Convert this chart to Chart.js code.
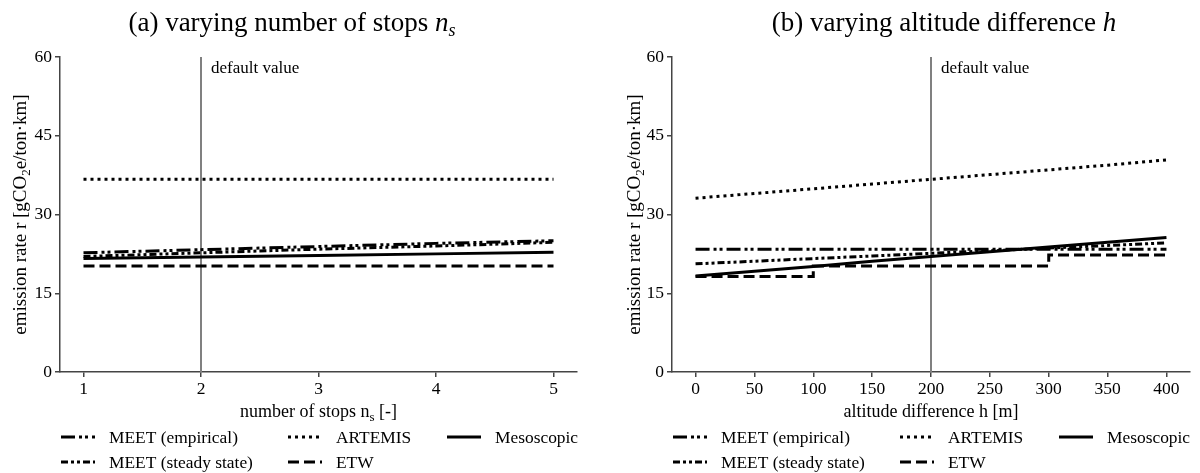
<!DOCTYPE html>
<html>
<head>
<meta charset="utf-8">
<script src="https://cdn.jsdelivr.net/npm/chart.js"></script>
<style>
body{margin:0;background:#fff}
#wrap{position:relative;width:1200px;height:473px}
canvas{position:absolute;top:0}
</style>
</head>
<body>
<div id="wrap">
<canvas id="chartA" width="600" height="473" style="left:0"></canvas>
<canvas id="chartB" width="600" height="473" style="left:600px"></canvas>
</div>
<script>
// (a) number of stops
const stops = [1, 2, 3, 4, 5]
const stopsEmpirical = [22.7, 23.3, 23.9, 24.5, 25.0]
const stopsSteady = [22.0, 22.7, 23.4, 24.0, 24.7]
const stopsArtemis = [36.7, 36.7, 36.7, 36.7, 36.7]
const stopsEtw = [20.2, 20.2, 20.2, 20.2, 20.2]
const stopsMeso = [21.6, 21.9, 22.2, 22.5, 22.8]
const stopsDefault = 2

// (b) altitude difference
const altitude = [0, 50, 100, 150, 200, 250, 300, 350, 400]
const altEmpirical = [23.4, 23.4, 23.4, 23.4, 23.4, 23.4, 23.4, 23.4, 23.4]
const altSteady = [20.6, 21.1, 21.6, 22.1, 22.6, 23.1, 23.6, 24.1, 24.6]
const altArtemis = [33.1, 34.0, 34.9, 35.8, 36.7, 37.6, 38.5, 39.4, 40.4]
const altMeso = [18.3, 19.2, 20.1, 21.1, 22.0, 22.9, 23.8, 24.7, 25.6]
const altEtwX = [0, 100, 100, 300, 300, 400] // ETW is a step line
const altEtw = [18.2, 18.2, 20.2, 20.2, 22.3, 22.3]
const altDefault = 200

const yTicks = [0, 15, 30, 45, 60]
const stopTicks = [1, 2, 3, 4, 5]
const altTicks = [0, 50, 100, 150, 200, 250, 300, 350, 400]

const names = ['MEET (empirical)', 'MEET (steady state)', 'ARTEMIS', 'ETW', 'Mesoscopic']
const dashes = [[14, 4, 3, 3, 3, 4], [7, 3, 3, 3, 3, 3], [3, 4], [11, 5], []]

const SERIF = '"Liberation Serif", "DejaVu Serif", serif'
const AXIS = '#444'
const LW = 3
Chart.defaults.font.family = SERIF

function pts(xs, ys){
    return xs.map((x, i) => ({x, y: ys[i]}))
}

function line(label, data, dash, extra){
    return Object.assign({
        label, data,
        borderColor: '#000',
        borderWidth: LW,
        borderDash: dash,
        borderCapStyle: 'butt',
        pointRadius: 0,
        fill: false,
        tension: 0
    }, extra || {})
}

// draw text pieces (for italic / subscript parts) centred on x
function drawRuns(ctx, runs, x, y){
    let w = 0
    runs.forEach(r => { ctx.font = r.font; w += ctx.measureText(r.t).width })
    let cx = x - w / 2
    ctx.textAlign = 'left'
    ctx.textBaseline = 'alphabetic'
    runs.forEach(r => {
        ctx.font = r.font
        ctx.fillText(r.t, cx, y + (r.dy || 0))
        cx += ctx.measureText(r.t).width
    })
}

const decor = {
    id: 'decor',
    afterDraw(chart, args, o){
        const ctx = chart.ctx
        const area = chart.chartArea
        const xs = chart.scales.x
        ctx.save()
        ctx.fillStyle = '#000'
        // title
        drawRuns(ctx, o.title, o.titleX, 31)
        // x title
        drawRuns(ctx, o.xTitle, (area.left + area.right) / 2, 417)
        // y title
        ctx.save()
        ctx.translate(o.yTitleX, (area.top + area.bottom) / 2)
        ctx.rotate(-Math.PI / 2)
        drawRuns(ctx, [
            {t: 'emission rate r [gCO', font: '19px ' + SERIF},
            {t: '2', font: '13px ' + SERIF, dy: 4},
            {t: 'e/ton\u00b7km]', font: '19px ' + SERIF}
        ], 0, 6)
        ctx.restore()
        // default value label
        ctx.font = '17px ' + SERIF
        ctx.textAlign = 'left'
        ctx.textBaseline = 'middle'
        ctx.fillText('default value', xs.getPixelForValue(o.defaultX) + 10, area.top + 12)
        // legend (3 columns)
        const cols = [1, 228, 387]
        const rows = [437, 462]
        const order = [[0, 2, 4], [1, 3]]
        order.forEach((row, r) => {
            row.forEach((k, c) => {
                const hx = area.left + cols[c]
                const hy = rows[r]
                ctx.beginPath()
                ctx.setLineDash(dashes[k])
                ctx.lineWidth = LW
                ctx.strokeStyle = '#000'
                ctx.moveTo(hx, hy)
                ctx.lineTo(hx + 34, hy)
                ctx.stroke()
                ctx.setLineDash([])
                ctx.font = '17.4px ' + SERIF
                ctx.textBaseline = 'middle'
                ctx.fillText(names[k], hx + 48, hy + 1)
            })
        })
        ctx.restore()
    }
}

function makeChart(id, cfg){
    const ctx = document.getElementById(id)
    return new Chart(ctx, {
        type: 'line',
        data: { datasets: cfg.datasets.concat([
            line('default', [{x: cfg.defaultX, y: 0}, {x: cfg.defaultX, y: 60}], [], {borderColor: '#808080', borderWidth: 2})
        ]) },
        options: {
            responsive: false,
            animation: false,
            devicePixelRatio: 1,
            layout: { padding: { top: 57, left: 0, right: cfg.padRight, bottom: 0 } },
            scales: {
                x: {
                    type: 'linear',
                    min: cfg.xMin,
                    max: cfg.xMax,
                    afterBuildTicks: s => { s.ticks = cfg.xTicks.map(v => ({value: v})) },
                    afterFit: s => { s.height = 101 },
                    grid: { display: true, drawOnChartArea: false, drawTicks: true, tickLength: 5, color: AXIS, lineWidth: 1.5 },
                    border: { display: true, color: AXIS, width: 1.5 },
                    ticks: { color: '#000', font: {size: 17.5}, padding: 2, maxRotation: 0, autoSkip: false }
                },
                y: {
                    min: 0,
                    max: 60,
                    afterBuildTicks: s => { s.ticks = yTicks.map(v => ({value: v})) },
                    afterFit: s => { s.width = cfg.yWidth },
                    grid: { display: true, drawOnChartArea: false, drawTicks: true, tickLength: 5, color: AXIS, lineWidth: 1.5 },
                    border: { display: true, color: AXIS, width: 1.5 },
                    ticks: { color: '#000', font: {size: 17.5}, padding: 3 }
                }
            },
            plugins: {
                legend: { display: false },
                tooltip: { enabled: false },
                decor: {
                    title: cfg.title,
                    titleX: cfg.titleX,
                    xTitle: cfg.xTitle,
                    yTitleX: cfg.yTitleX,
                    defaultX: cfg.defaultX
                }
            }
        },
        plugins: [decor]
    })
}

makeChart('chartA', {
    datasets: [
        line(names[0], pts(stops, stopsEmpirical), dashes[0]),
        line(names[1], pts(stops, stopsSteady), dashes[1]),
        line(names[2], pts(stops, stopsArtemis), dashes[2]),
        line(names[3], pts(stops, stopsEtw), dashes[3]),
        line(names[4], pts(stops, stopsMeso), dashes[4])
    ],
    defaultX: stopsDefault,
    xMin: 0.8, xMax: 5.2, xTicks: stopTicks,
    yWidth: 60, padRight: 23, yTitleX: 20, titleX: 292,
    title: [
        {t: '(a) varying number of stops ', font: '27px ' + SERIF},
        {t: 'n', font: 'italic 27px ' + SERIF},
        {t: 's', font: 'italic 18px ' + SERIF, dy: 5}
    ],
    xTitle: [
        {t: 'number of stops n', font: '18px ' + SERIF},
        {t: 's', font: '13px ' + SERIF, dy: 4},
        {t: ' [-]', font: '18px ' + SERIF}
    ]
})

makeChart('chartB', {
    datasets: [
        line(names[0], pts(altitude, altEmpirical), dashes[0]),
        line(names[1], pts(altitude, altSteady), dashes[1]),
        line(names[2], pts(altitude, altArtemis), dashes[2]),
        line(names[3], pts(altEtwX, altEtw), dashes[3]),
        line(names[4], pts(altitude, altMeso), dashes[4])
    ],
    defaultX: altDefault,
    xMin: -20, xMax: 420, xTicks: altTicks,
    yWidth: 72, padRight: 10, yTitleX: 34, titleX: 344,
    title: [
        {t: '(b) varying altitude difference ', font: '27px ' + SERIF},
        {t: 'h', font: 'italic 27px ' + SERIF}
    ],
    xTitle: [
        {t: 'altitude difference h [m]', font: '18px ' + SERIF}
    ]
})
</script>
</body>
</html>
